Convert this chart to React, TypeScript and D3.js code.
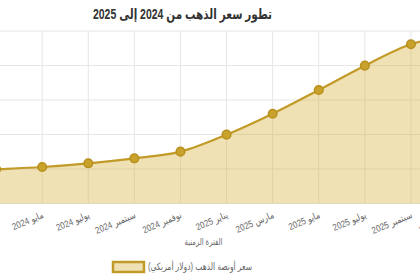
import React from "react";
import * as d3 from "d3";

const months = [
  "يناير 2024", "مارس 2024", "مايو 2024", "يوليو 2024", "سبتمبر 2024", "نوفمبر 2024",
  "يناير 2025", "مارس 2025", "مايو 2025", "يوليو 2025", "سبتمبر 2025", "نوفمبر 2025",
];
const prices = [2175, 2197, 2223, 2266, 2324, 2401, 2598, 2841, 3116, 3398, 3646, 3750];
const yTicks = [1800, 2200, 2600, 3000, 3400, 3800];

const titleText = "تطور سعر الذهب من 2024 إلى 2025";
const xTitle = "الفترة الزمنية";
const seriesName = "سعر أونصة الذهب (دولار أمريكي)";

const W = 420;
const H = 280;
const font = "Arial, 'Liberation Sans', 'DejaVu Sans', sans-serif";

export default function App() {
  const x = d3.scalePoint<string>().domain(months).range([-50, 457]);
  const y = d3.scaleLinear().domain([1800, 3800]).range([203.5, 31]);
  const data = months.map((m, i) => ({ m, v: prices[i] }));

  const line = d3
    .line<{ m: string; v: number }>()
    .x((d) => x(d.m)!)
    .y((d) => y(d.v))
    .curve(d3.curveMonotoneX);
  const area = d3
    .area<{ m: string; v: number }>()
    .x((d) => x(d.m)!)
    .y0(y(1800))
    .y1((d) => y(d.v))
    .curve(d3.curveMonotoneX);

  const gold = "#c29a28";
  const fill = "rgba(212,175,55,0.38)";
  const grid = "#e6e6e6";

  return (
    <svg
      width={W}
      height={H}
      style={{ position: "absolute", left: 0, top: 0, background: "#fff" }}
      fontFamily={font}
    >
      {yTicks.map((t) => (
        <line key={t} x1={0} x2={W} y1={y(t)} y2={y(t)} stroke={grid} strokeWidth={1} />
      ))}
      {months.map((m) => (
        <line key={m} x1={x(m)!} x2={x(m)!} y1={y(3800)} y2={y(1800)} stroke={grid} strokeWidth={1} />
      ))}
      <path d={area(data)!} fill={fill} />
      <path d={line(data)!} fill="none" stroke={gold} strokeWidth={2.2} />
      {data.map((d) => (
        <circle key={d.m} cx={x(d.m)!} cy={y(d.v)} r={4.3} fill="#c9a22c" stroke="#b8901e" strokeWidth={1.5} />
      ))}
      {months.map((m) => (
        <text
          key={"l" + m}
          transform={`translate(${x(m)! + 1},${215}) rotate(-23) scale(0.8,0.95)`}
          direction="rtl"
          textAnchor="start"
          dominantBaseline="middle"
          fontSize={10}
          fill="#666"
        >
          {m}
        </text>
      ))}
      <text x={182.5} y={15} direction="rtl" textAnchor="middle" dominantBaseline="middle" fontSize={14} fontWeight="bold" fill="#333" textLength={179} lengthAdjust="spacingAndGlyphs">
        {titleText}
      </text>
      <text x={203.5} y={243} direction="rtl" textAnchor="middle" dominantBaseline="middle" fontSize={9} fill="#666" textLength={38} lengthAdjust="spacingAndGlyphs">
        {xTitle}
      </text>
      <rect x={113} y={262} width={31} height={10} fill={fill} stroke={gold} strokeWidth={2.5} />
      <text x={200} y={267.5} direction="rtl" textAnchor="middle" dominantBaseline="middle" fontSize={10} fill="#666" textLength={104} lengthAdjust="spacingAndGlyphs">
        {seriesName}
      </text>
    </svg>
  );
}
